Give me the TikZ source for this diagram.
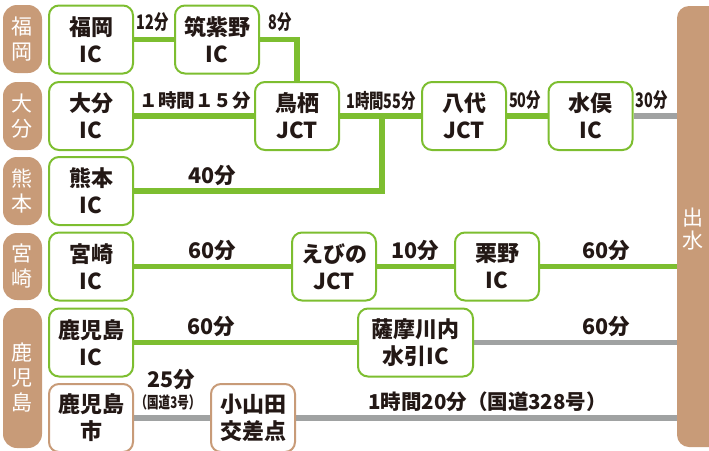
\documentclass[tikz,border=0pt]{standalone}
\usepackage{fontspec}
\usetikzlibrary{backgrounds}
\newfontfamily\jp{Noto Sans CJK JP}
\newfontfamily\jpc{Noto Sans CJK JP}[FakeStretch=0.72]
\definecolor{kmgreen}{RGB}{125,190,48}
\definecolor{kmbrown}{RGB}{200,155,120}
\definecolor{kmgray}{RGB}{160,162,162}
\definecolor{kmtext}{RGB}{35,24,21}
\tikzset{
  icbox/.style={draw=kmgreen, line width=2pt, fill=white, rounded corners=10pt,
    minimum width=84pt, minimum height=68pt, inner sep=0pt, align=center,
    text=kmtext, font=\jp\bfseries\fontsize{22}{27}\selectfont},
  rdbox/.style={icbox, draw=kmbrown},
  region/.style={fill=kmbrown, rounded corners=14pt, minimum width=39pt,
    inner sep=0pt, align=center, text=white, font=\jp\fontsize{21}{25}\selectfont},
  gline/.style={draw=kmgreen, line width=5.5pt},
  rline/.style={draw=kmgray, line width=5.5pt},
  tlabel/.style={inner sep=0pt, text=kmtext, font=\jp\bfseries\fontsize{21.5}{21.5}\selectfont},
  tsmall/.style={inner sep=0pt, text=kmtext, font=\jpc\bfseries\fontsize{20}{20}\selectfont},
}
\begin{document}
\begin{tikzpicture}[x=1pt, y=-1pt]
  \useasboundingbox (0,0) rectangle (709,450);
  \clip (0,0) rectangle (709,450);

  % prefecture tags on the left
  \node[region, minimum height=68pt] (rfukuoka) at (22.5,39) {福\\岡};
  \node[region, minimum height=68pt] (roita) at (22.5,116) {大\\分};
  \node[region, minimum height=68pt] (rkumamoto) at (22.5,191) {熊\\本};
  \node[region, minimum height=67pt] (rmiyazaki) at (22.5,266.5) {宮\\崎};
  \node[region, minimum height=140pt] (rkagoshima) at (22.5,378) {鹿\\児\\島};

  % destination bar
  \node[fill=kmbrown, rounded corners=12pt, minimum width=64pt, minimum height=441pt,
    inner sep=0pt] (izumi) at (709,226.5) {};
  \node[inner sep=0pt, align=center, text=white, font=\jp\fontsize{21}{23}\selectfont]
    (izumitext) at (693,229) {出\\水};

  % interchanges
  \node[icbox] (fukuoka) at (91,39.5) {福岡\\IC};
  \node[icbox] (chikushino) at (217,39.5) {筑紫野\\IC};
  \node[icbox] (oita) at (91,116) {大分\\IC};
  \node[icbox] (tosu) at (297,116) {鳥栖\\JCT};
  \node[icbox] (yatsushiro) at (464,116) {八代\\JCT};
  \node[icbox] (minamata) at (590.5,116) {水俣\\IC};
  \node[icbox] (kumamoto) at (91,191) {熊本\\IC};
  \node[icbox] (miyazaki) at (91,266.5) {宮崎\\IC};
  \node[icbox] (ebino) at (334,266.5) {えびの\\JCT};
  \node[icbox] (kurino) at (497,266.5) {栗野\\IC};
  \node[icbox] (kagoshimaic) at (91,342.5) {鹿児島\\IC};
  \node[icbox, minimum width=115pt] (satsuma) at (415.5,342.5) {薩摩川内\\水引IC};
  \node[rdbox] (kagoshimashi) at (91,418) {鹿児島\\市};
  \node[rdbox] (oyamada) at (253,418) {小山田\\交差点};

  \coordinate (kjunc) at (382,116);

  % roads
  \begin{scope}[on background layer]
    \draw[gline] (fukuoka.east) -- (chikushino.west);
    \draw[gline] (chikushino.east) -| (tosu.north);
    \draw[gline] (oita.east) -- (tosu.west);
    \draw[gline] (tosu.east) -- (yatsushiro.west);
    \draw[gline] (kumamoto.east) -| (kjunc);
    \draw[gline] (yatsushiro.east) -- (minamata.west);
    \draw[rline] (minamata.east) -- (minamata.east -| izumi.west);
    \draw[gline] (miyazaki.east) -- (ebino.west);
    \draw[gline] (ebino.east) -- (kurino.west);
    \draw[gline] (kurino.east) -- (kurino.east -| izumi.west);
    \draw[gline] (kagoshimaic.east) -- (satsuma.west);
    \draw[rline] (satsuma.east) -- (satsuma.east -| izumi.west);
    \draw[rline] (kagoshimashi.east) -- (oyamada.west);
    \draw[rline] (oyamada.east) -- (oyamada.east -| izumi.west);
  \end{scope}

  % travel times
  \node[tsmall] (t12) at (152.5,22.5) {12分};
  \node[tsmall] (t8) at (280,22.5) {8分};
  \node[tlabel, font=\jp\bfseries\fontsize{18.5}{18.5}\selectfont] (t115) at (195,100.5) {１時間１５分};
  \node[tsmall] (t155) at (381,100.5) {1時間55分};
  \node[tsmall] (t50) at (525,100.5) {50分};
  \node[tsmall] (t30) at (651.5,100.5) {30分};
  \node[tlabel] (t40) at (212,175) {40分};
  \node[tlabel] (t60miyazaki) at (212,250) {60分};
  \node[tlabel] (t10) at (415,250) {10分};
  \node[tlabel] (t60kurino) at (606,250) {60分};
  \node[tlabel] (t60kagoshima) at (211,326) {60分};
  \node[tlabel] (t60satsuma) at (606,326) {60分};
  \node[tlabel] (t25) at (171,379) {25分};
  \node[tsmall, font=\jpc\bfseries\fontsize{16}{16}\selectfont] (troute3) at (168,402) {（国道3号）};
  \node[tlabel, font=\jp\bfseries\fontsize{20.5}{20.5}\selectfont] (t120) at (487.5,402) {1時間20分（国道328号）};
\end{tikzpicture}
\end{document}
